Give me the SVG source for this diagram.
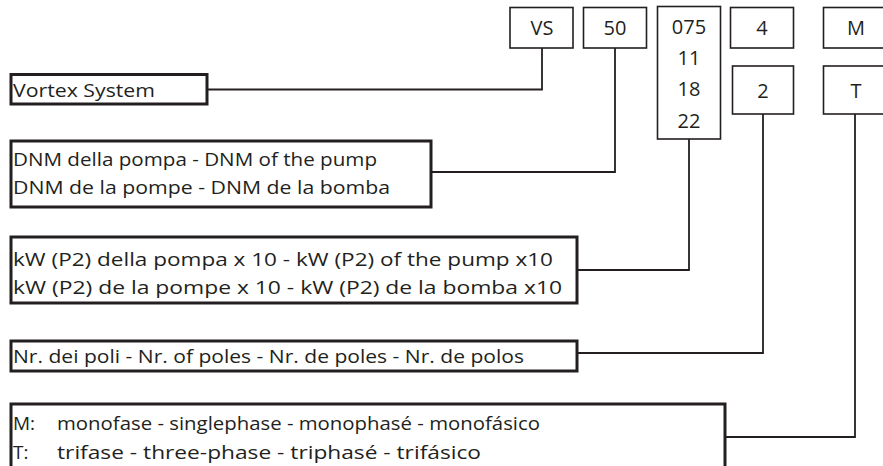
<svg xmlns="http://www.w3.org/2000/svg" width="883" height="466" viewBox="0 0 883 466">
<style>
.big{fill:#fff;stroke:#231f20;stroke-width:3}
.small{fill:#fff;stroke:#231f20;stroke-width:1.6}
.con{fill:none;stroke:#231f20;stroke-width:1.8}
text{font-family:"Open Sans","Liberation Sans",sans-serif;font-size:19px;fill:#231f20}
.c{text-anchor:middle;font-size:20px}
</style>
<g id="connectors">
<path class="con" d="M542,48 V89.5 H207"/>
<path class="con" d="M615,48 V172 H431"/>
<path class="con" d="M689,139 V270 H577"/>
<path class="con" d="M763,114 V353 H577"/>
<path class="con" d="M855,114 V437 H725"/>
</g>
<g id="code-vs"><rect class="small" x="510" y="7.5" width="63" height="40.5"/><text class="c" x="542" y="35">VS</text></g>
<g id="code-50"><rect class="small" x="583.5" y="7.5" width="63" height="40.5"/><text class="c" x="615" y="35">50</text></g>
<g id="code-kw"><rect class="small" x="657.5" y="6.5" width="63" height="132.5"/>
<text class="c" x="689" y="34">075</text><text class="c" x="689" y="65">11</text><text class="c" x="689" y="96">18</text><text class="c" x="689" y="128">22</text></g>
<g id="code-4"><rect class="small" x="730.5" y="7.5" width="63" height="40.5"/><text class="c" x="762" y="35">4</text></g>
<g id="code-2"><rect class="small" x="732.5" y="66" width="61" height="48"/><text class="c" x="763" y="98">2</text></g>
<g id="code-m"><rect class="small" x="823.5" y="7.5" width="66" height="40.5"/><text class="c" x="856" y="35">M</text></g>
<g id="code-t"><rect class="small" x="823.5" y="66" width="66" height="48"/><text class="c" x="856" y="98">T</text></g>
<g id="vortex"><rect class="big" x="11" y="74.5" width="196" height="29.5"/><text x="13" y="97" textLength="142" lengthAdjust="spacingAndGlyphs">Vortex System</text></g>
<g id="dnm"><rect class="big" x="11" y="141" width="420" height="66"/>
<text x="13" y="166" textLength="364" lengthAdjust="spacingAndGlyphs">DNM della pompa - DNM of the pump</text>
<text x="13" y="194" textLength="377" lengthAdjust="spacingAndGlyphs">DNM de la pompe - DNM de la bomba</text></g>
<g id="kw"><rect class="big" x="11" y="237" width="566" height="66"/>
<text x="13" y="266" textLength="540" lengthAdjust="spacingAndGlyphs">kW (P2) della pompa x 10 - kW (P2) of the pump x10</text>
<text x="13" y="294" textLength="549" lengthAdjust="spacingAndGlyphs">kW (P2) de la pompe x 10 - kW (P2) de la bomba x10</text></g>
<g id="poles"><rect class="big" x="11" y="341" width="566" height="30"/>
<text x="13" y="363" textLength="511" lengthAdjust="spacingAndGlyphs">Nr. dei poli - Nr. of poles - Nr. de poles - Nr. de polos</text></g>
<g id="phase"><rect class="big" x="11" y="404" width="714" height="72"/>
<text x="13" y="430">M:</text>
<text x="57" y="430" textLength="483" lengthAdjust="spacingAndGlyphs">monofase - singlephase - monophasé - monofásico</text>
<text x="13" y="459">T:</text>
<text x="57" y="459" textLength="424" lengthAdjust="spacingAndGlyphs">trifase - three-phase - triphasé - trifásico</text></g>
</svg>
